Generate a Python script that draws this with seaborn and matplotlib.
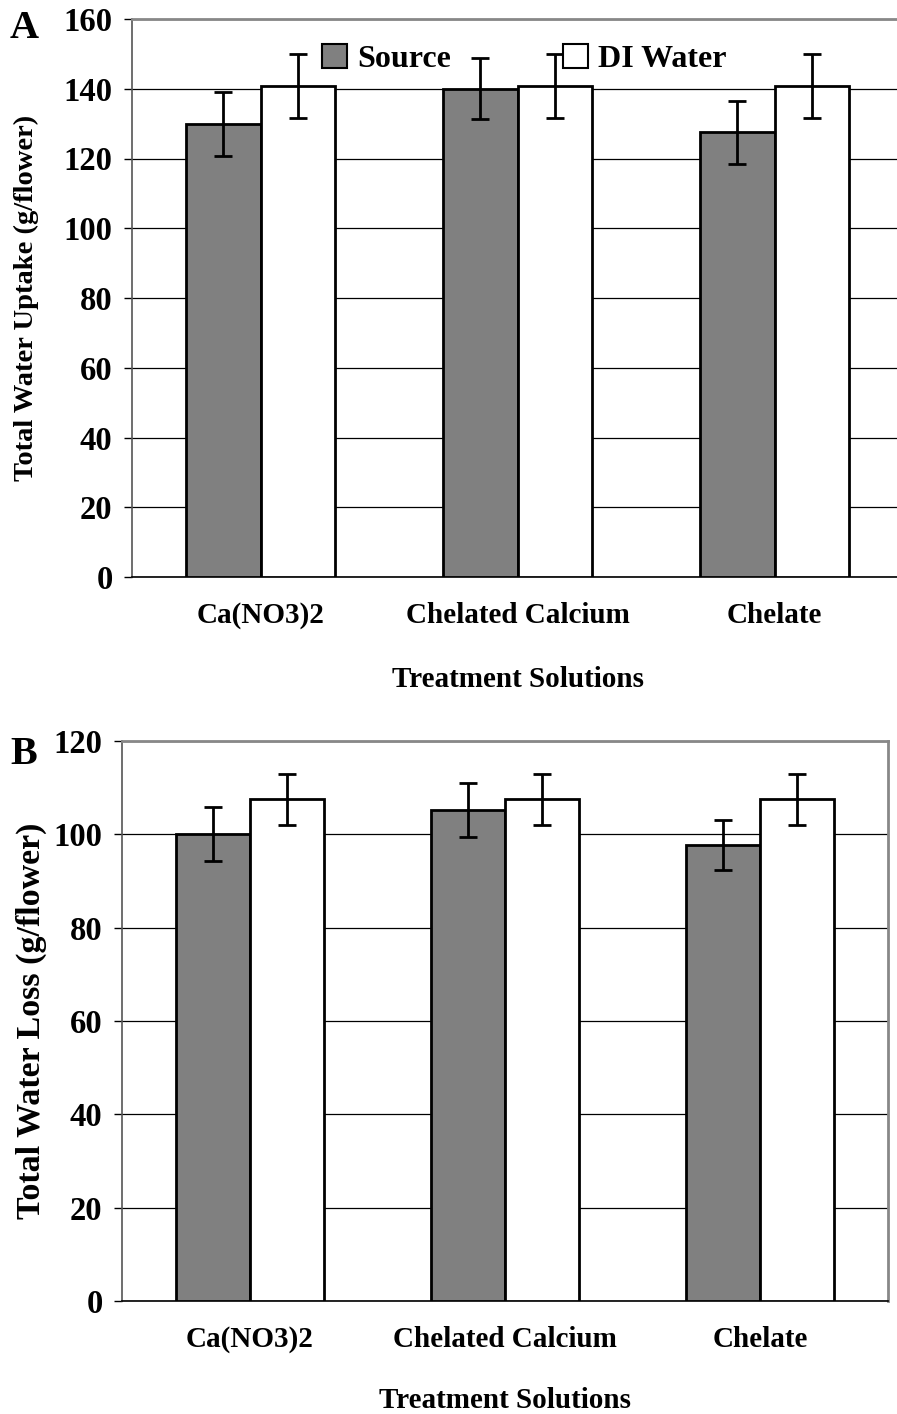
import matplotlib
matplotlib.use("Agg")
import matplotlib.pyplot as plt
import seaborn as sns
import pandas as pd
import numpy as np
from matplotlib.patches import Patch

sns.set_theme(style="white")
plt.rcParams['font.family'] = ['Liberation Serif', 'DejaVu Serif']
plt.rcParams['font.weight'] = 'bold'
for k in ['text.color', 'axes.labelcolor', 'xtick.color', 'ytick.color']:
    plt.rcParams[k] = 'black'

categories = ["Ca(NO3)2", "Chelated Calcium", "Chelate"]
series = ["Source", "DI Water"]

uptake_source = [129.8, 140.0, 127.5]
uptake_source_err = [9.2, 8.8, 9.0]
uptake_di = [140.8, 140.8, 140.8]
uptake_di_err = [9.2, 9.2, 9.2]

loss_source = [100.1, 105.2, 97.7]
loss_source_err = [5.8, 5.8, 5.4]
loss_di = [107.5, 107.5, 107.5]
loss_di_err = [5.5, 5.5, 5.5]

top_yticks = [0, 20, 40, 60, 80, 100, 120, 140, 160]
bot_yticks = [0, 20, 40, 60, 80, 100, 120]

def make_df(src, di):
    return pd.DataFrame({
        "Treatment": categories * 2,
        "Series": [series[0]] * 3 + [series[1]] * 3,
        "Value": list(src) + list(di),
    })

W, H = 897, 1414
fig = plt.figure(figsize=(W / 100, H / 100), dpi=100)

ax1 = fig.add_axes([132 / W, 1 - 577 / H, (903 - 132) / W, (577 - 19) / H])
ax2 = fig.add_axes([122 / W, 1 - 1301 / H, (888 - 122) / W, (1301 - 741) / H])

palette = {"Source": "#808080", "DI Water": "#ffffff"}

def draw(ax, src, srce, di, die, yticks, ylabel, ylabel_size, ylab_x, xlab_y,
         letter, letter_xy, legend):
    df = make_df(src, di)
    sns.barplot(data=df, x="Treatment", y="Value", hue="Series", order=categories,
                hue_order=series, palette=palette, edgecolor="black", linewidth=2,
                width=0.58, errorbar=None, legend=False, ax=ax, zorder=3)
    errs = list(srce) + list(die)
    vals = list(src) + list(di)
    bars = [p for p in ax.patches][:6]
    for p, v, e in zip(bars, vals, errs):
        xc = p.get_x() + p.get_width() / 2
        ax.errorbar(xc, v, yerr=e, color="black", elinewidth=2, capsize=9 * 72 / 100,
                    capthick=2, zorder=4)
    ax.set_xlim(-0.5, 2.5)
    ax.set_ylim(yticks[0], yticks[-1])
    ax.set_yticks(yticks)
    ax.set_yticklabels([str(t) for t in yticks], fontsize=23.5, fontweight="bold")
    ax.yaxis.grid(True, color="black", linewidth=0.9, zorder=0)
    ax.xaxis.grid(False)
    ax.set_axisbelow(True)
    ax.set_xticks(range(len(categories)))
    ax.set_xticklabels(categories, fontsize=21, fontweight="bold")
    ax.tick_params(axis="x", which="major", length=0, pad=18)
    ax.set_xticks([-0.5, 0.5, 1.5, 2.5], minor=True)
    ax.tick_params(axis="x", which="minor", length=7, width=1, color="black", direction="out")
    ax.tick_params(axis="y", length=6, width=1, color="black", direction="out", left=True, pad=8)
    ax.set_xlabel("Treatment Solutions", fontsize=21, fontweight="bold")
    ax.xaxis.set_label_coords(0.5, xlab_y)
    ax.xaxis.label.set_va("center")
    ax.set_ylabel(ylabel, fontsize=ylabel_size, fontweight="bold")
    ax.yaxis.set_label_coords(ylab_x, 0.5)
    ax.yaxis.label.set_va("center")
    for s in ["top", "right"]:
        ax.spines[s].set_color("#888888")
        ax.spines[s].set_linewidth(2)
    ax.spines["left"].set_color("#555555")
    ax.spines["left"].set_linewidth(1.2)
    ax.spines["bottom"].set_color("black")
    ax.spines["bottom"].set_linewidth(1.2)
    fig.text(letter_xy[0] / W, 1 - letter_xy[1] / H, letter, fontsize=29,
             fontweight="bold", ha="left", va="center")
    if legend:
        handles = [Patch(facecolor=palette[s], edgecolor="black", linewidth=1.5, label=s)
                   for s in series]
        leg = ax.legend(handles=handles, loc="center", bbox_to_anchor=(524 / W, 1 - 59 / H),
                        bbox_transform=fig.transFigure, ncol=2, frameon=False,
                        prop={"size": 23, "weight": "bold"}, handlelength=0.8,
                        handleheight=0.8, handletextpad=0.3, columnspacing=3.5)
        leg.set_zorder(5)

draw(ax1, uptake_source, uptake_source_err, uptake_di, uptake_di_err, top_yticks,
     "Total Water Uptake (g/flower)", 20.5, (26 - 132) / 771, (577 - 679) / 558,
     "A", (10, 28), True)
draw(ax2, loss_source, loss_source_err, loss_di, loss_di_err, bot_yticks,
     "Total Water Loss (g/flower)", 24.5, (31 - 122) / 766, (1301 - 1401) / 560,
     "B", (10, 754), False)

fig.savefig("out.png", dpi=100)
